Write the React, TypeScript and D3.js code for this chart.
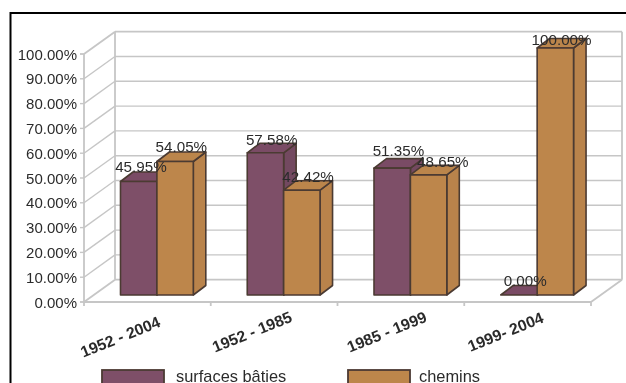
import React from "react";
import * as d3 from "d3";

const categories = ["1952 - 2004", "1952 - 1985", "1985 - 1999", "1999- 2004"];
const seriesNames = ["surfaces bâties", "chemins"];
const surfacesBaties = [45.95, 57.58, 51.35, 0];
const chemins = [54.05, 42.42, 48.65, 100];
const tickValues = [0, 10, 20, 30, 40, 50, 60, 70, 80, 90, 100];
const seriesColors = ["#7e4f68", "#bd864c"];
const sideColors = ["#734860", "#b9834b"];
const topColors = ["#7a4c65", "#bb854c"];

const W = 626, H = 383;
const grid = "#c6c6c6";
const dark = "#4b3a32";
const textColor = "#2c2c2c";
const font = "'Liberation Sans', Arial, sans-serif";

// 3D projection
const wallDx = 31, wallDy = 22.3;
const barDx = 12.5, barDy = 9.5;
const x = d3.scaleLinear().domain([0, 4]).range([84, 591]);
const yFront = d3.scaleLinear().domain([0, 100]).range([302, 54]);
const yBar = d3.scaleLinear().domain([0, 100]).range([295, 48]);
const barW = 36.4;
const barInset = 36.5;

const labelNudgeX = [[-4, 0, 0, 0], [0, 0, 8, 0]];
const labelNudgeY = [[0, 1.5, -3, 0], [0, 1.5, 1.5, 6.5]];
const catNudgeX = [-25, -20, -12, -20];
const catNudgeY = [35, 30, 30, 30];

const poly = (pts: number[][]) => pts.map((p) => p.join(",")).join(" ");

function Bar({ i, s, v }: { i: number; s: number; v: number }) {
  const l = x(i) + barInset + s * barW;
  const r = l + barW;
  const b = yBar(0);
  const t = yBar(v);
  const stroke = { stroke: dark, strokeWidth: 1.6, strokeLinejoin: "round" as const };
  return (
    <g>
      <polygon points={poly([[r, b], [r + barDx, b - barDy], [r + barDx, t - barDy], [r, t]])} fill={sideColors[s]} {...stroke} />
      <polygon points={poly([[l, t], [l + barDx, t - barDy], [r + barDx, t - barDy], [r, t]])} fill={topColors[s]} {...stroke} />
      <rect x={l} y={t} width={barW} height={b - t} fill={seriesColors[s]} {...stroke} />
    </g>
  );
}

export default function App() {
  const fl = x(0), fr = x(4), y0 = yFront(0), y100 = yFront(100);
  const series = [surfacesBaties, chemins];
  return (
    <svg width={W} height={H} viewBox={`0 0 ${W} ${H}`} style={{ position: "absolute", left: 0, top: 0, background: "#fff" }}>
      <defs>
        <filter id="soft" x="-2%" y="-2%" width="104%" height="104%">
          <feGaussianBlur stdDeviation="0.4" />
        </filter>
      </defs>
      <g filter="url(#soft)">
        <rect x={10.5} y={13} width={W + 20} height={H + 20} fill="#fff" stroke="#000" strokeWidth={2} />

        {/* walls */}
        {tickValues.map((t) => (
          <g key={t} stroke={grid} strokeWidth={t === 0 || t === 100 ? 1.8 : 1.4} fill="none">
            <line x1={fl} y1={yFront(t)} x2={fl + wallDx} y2={yFront(t) - wallDy} />
            <line x1={fl + wallDx} y1={yFront(t) - wallDy} x2={fr + wallDx} y2={yFront(t) - wallDy} />
            <line x1={fl - 4} y1={yFront(t)} x2={fl} y2={yFront(t)} />
          </g>
        ))}
        <g stroke={grid} strokeWidth={1.8}>
          <line x1={fl} y1={y0} x2={fl} y2={y100} />
          <line x1={fl + wallDx} y1={y0 - wallDy} x2={fl + wallDx} y2={y100 - wallDy} />
          <line x1={fr + wallDx} y1={y0 - wallDy} x2={fr + wallDx} y2={y100 - wallDy} />
          <line x1={fl} y1={y0} x2={fr} y2={y0} />
          <line x1={fr} y1={y0} x2={fr + wallDx} y2={y0 - wallDy} />
          {x.ticks(4).map((t) => (
            <line key={t} x1={x(t)} y1={y0} x2={x(t)} y2={y0 + 4} />
          ))}
        </g>

        {/* bars */}
        {categories.map((c, i) => (
          <g key={c}>
            {series.map((vals, s) => (
              <Bar key={s} i={i} s={s} v={vals[i]} />
            ))}
          </g>
        ))}

        {/* value labels */}
        <g fontFamily={font} fontSize={15.2} fill={textColor} textAnchor="middle">
          {categories.map((c, i) =>
            series.map((vals, s) => (
              <text
                key={c + s}
                x={x(i) + barInset + s * barW + barW / 2 + barDx / 2 + labelNudgeX[s][i]}
                y={yBar(vals[i]) - barDy + labelNudgeY[s][i]}
              >
                {vals[i].toFixed(2)}%
              </text>
            ))
          )}
        </g>

        {/* y axis labels */}
        <g fontFamily={font} fontSize={15} fill={textColor} textAnchor="end">
          {tickValues.map((t) => (
            <text key={t} x={77} y={yFront(t) + 5.5}>
              {t.toFixed(2)}%
            </text>
          ))}
        </g>

        {/* category labels */}
        <g fontFamily={font} fontSize={15.8} fontWeight={700} fill={textColor} textAnchor="middle">
          {categories.map((c, i) => {
            const cx = x(i + 0.5) + catNudgeX[i];
            const cy = y0 + catNudgeY[i] + 5;
            return (
              <text key={c} transform={`translate(${cx},${cy}) rotate(-22)`}>
                {c}
              </text>
            );
          })}
        </g>

        {/* legend */}
        <g fontFamily={font} fontSize={16.4} fill={textColor}>
          {seriesNames.map((n, s) => {
            const lx = s === 0 ? 102 : 348;
            return (
              <g key={n}>
                <rect x={lx} y={370} width={62} height={20} fill={seriesColors[s]} stroke={dark} strokeWidth={1.8} />
                <text x={s === 0 ? 176 : 419} y={382}>{n}</text>
              </g>
            );
          })}
        </g>
      </g>
    </svg>
  );
}
